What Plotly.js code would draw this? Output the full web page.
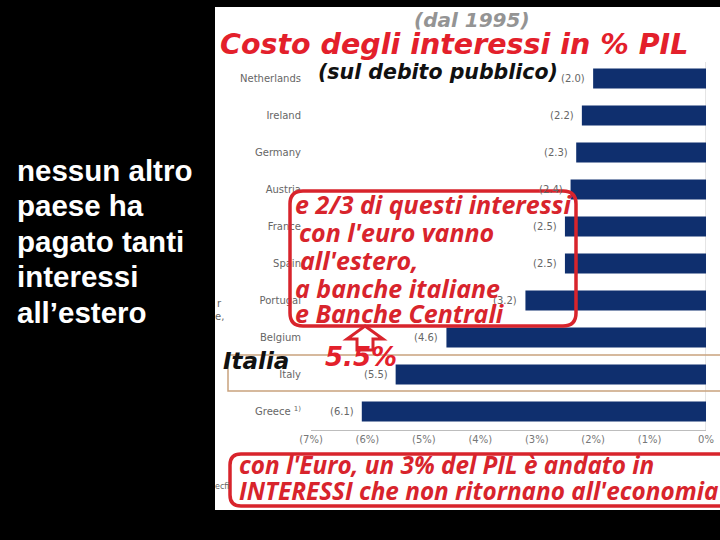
<!DOCTYPE html>
<html><head><meta charset="utf-8">
<script src="https://cdn.plot.ly/plotly-3.0.1.min.js"></script>
<style>html,body{margin:0;padding:0;background:#000;}#c{width:720px;height:540px;}</style>
</head><body><div id="c"></div>
<script>
// ---- data ----
const countries = ['Netherlands','Ireland','Germany','Austria','France','Spain','Portugal','Belgium','Italy','Greece'];
const countryLabels = ['Netherlands','Ireland','Germany','Austria','France','Spain','Portugal','Belgium','Italy','Greece <sup>1)</sup>'];
const interestPct = [2.0, 2.2, 2.3, 2.4, 2.5, 2.5, 3.2, 4.6, 5.5, 6.1];
const valueLabels = ['(2.0)','(2.2)','(2.3)','(2.4)','(2.5)','(2.5)','(3.2)','(4.6)','(5.5)','(6.1)'];
const tickVals = [7, 6, 5, 4, 3, 2, 1, 0];
const tickLabels = ['(7%)','(6%)','(5%)','(4%)','(3%)','(2%)','(1%)','0%'];
const sideLines = ['nessun altro','paese ha','pagato tanti','interessi','all\u2019estero'];
const boxLines = ['e 2/3 di questi interessi','con l\'euro vanno','all\'estero,','a banche italiane','e Banche Centrali'];
const bottomLines = ['con l\'Euro, un 3% del PIL \u00e8 andato in','INTERESSI che non ritornano all\'economia'];

// ---- layout helpers (pixel -> paper) ----
const L = 311, T = 60, W = 395, H = 370;
const X = px => (px - L) / W;
const Y = py => (T + H - py) / H;

function rrect(x0, y0, x1, y1, r) {
  const p = (x, y) => X(x) + ',' + Y(y);
  return 'M' + p(x0 + r, y0) + ' L' + p(x1 - r, y0) + ' Q' + p(x1, y0) + ' ' + p(x1, y0 + r) +
    ' L' + p(x1, y1 - r) + ' Q' + p(x1, y1) + ' ' + p(x1 - r, y1) +
    ' L' + p(x0 + r, y1) + ' Q' + p(x0, y1) + ' ' + p(x0, y1 - r) +
    ' L' + p(x0, y0 + r) + ' Q' + p(x0, y0) + ' ' + p(x0 + r, y0) + ' Z';
}
function poly(pts) {
  return 'M' + pts.map(q => X(q[0]) + ',' + Y(q[1])).join(' L') + ' Z';
}
function txt(px, py, text, font, xanchor) {
  return {xref: 'paper', yref: 'paper', x: X(px), y: Y(py), text: text, showarrow: false,
    xanchor: xanchor || 'left', yanchor: 'middle', font: font};
}

const RED = '#d8242c';
const boxFont = {family: 'Open Sans, DejaVu Sans', size: 25, color: RED, weight: 'bold', style: 'italic'};
const botFont = {family: 'Open Sans, DejaVu Sans', size: 24.3, color: RED, weight: 'bold', style: 'italic'};

const annotations = [];
// value labels
countries.forEach((c, i) => {
  annotations.push({x: interestPct[i], y: c, xref: 'x', yref: 'y', text: valueLabels[i], showarrow: false,
    xanchor: 'right', yanchor: 'middle', xshift: -6, font: {family: 'DejaVu Sans', size: 10, color: '#666'}});
});
// titles
annotations.push(txt(472, 20, '(dal 1995)', {family: 'DejaVu Sans', size: 20, color: '#949494', weight: 'bold', style: 'italic'}, 'center'));
annotations.push(txt(454, 44, 'Costo degli interessi in % PIL', {family: 'DejaVu Sans', size: 28.5, color: '#e3202b', weight: 'bold', style: 'italic'}, 'center'));
annotations.push(txt(438, 72, '(sul debito pubblico)', {family: 'DejaVu Sans', size: 20.5, color: '#111', weight: 'bold', style: 'italic'}, 'center'));
// side text
const sideY = [170, 205.5, 241, 276.5, 312];
sideLines.forEach((s, i) => annotations.push(txt(15, sideY[i], s, {family: 'Liberation Sans, Arial', size: 29.5, color: '#fff', weight: 'bold'})));
// box text
const boxY = [203.5, 231.5, 259.5, 287.5, 313];
const boxX = [293, 297, 298, 293, 293];
boxLines.forEach((s, i) => annotations.push(txt(boxX[i], boxY[i], s, boxFont)));
// bottom text
const botY = [465, 490];
bottomLines.forEach((s, i) => annotations.push(txt(237, botY[i], s, botFont)));
// Italia / 5.5%
annotations.push(txt(221, 361, 'Italia', {family: 'DejaVu Sans', size: 23, color: '#111', weight: 'bold', style: 'italic'}));
annotations.push(txt(323, 357, '5.5%', {family: 'DejaVu Sans', size: 26, color: '#e3202b', weight: 'bold', style: 'italic'}));
// cropped fragments at the panel edge
annotations.push(txt(215, 303, 'r', {family: 'DejaVu Sans', size: 10, color: '#666'}));
annotations.push(txt(213, 316, 'e,', {family: 'DejaVu Sans', size: 10, color: '#666'}));
annotations.push(txt(213, 486, 'ecfi', {family: 'DejaVu Sans', size: 8, color: '#666'}));

const shapes = [
  // white panel
  {type: 'rect', xref: 'paper', yref: 'paper', x0: X(215), x1: X(725), y0: Y(7), y1: Y(510),
    fillcolor: '#fff', line: {width: 0}, layer: 'below'},
  // 0% vertical line
  {type: 'line', xref: 'x', yref: 'paper', x0: 0, x1: 0, y0: Y(62), y1: 0, line: {color: '#c8c8c8', width: 1}, layer: 'below'},
  // Italy highlight
  {type: 'rect', xref: 'paper', yref: 'paper', x0: X(228), x1: X(730), y0: Y(355), y1: Y(391),
    line: {color: '#c9a27e', width: 1.5}, fillcolor: 'rgba(0,0,0,0)'},
  // red boxes
  {type: 'path', xref: 'paper', yref: 'paper', path: rrect(290, 191, 576, 326, 13), line: {color: RED, width: 3.5}},
  {type: 'path', xref: 'paper', yref: 'paper', path: rrect(230, 454, 740, 506, 11), line: {color: RED, width: 3.5}},
  // arrow
  {type: 'path', xref: 'paper', yref: 'paper',
    path: poly([[365, 326], [383, 339], [373, 339], [373, 350], [357, 350], [357, 339], [347, 339]]),
    line: {color: RED, width: 3}, fillcolor: '#fff'}
];

const trace = {
  type: 'bar', orientation: 'h', y: countries, x: interestPct,
  marker: {color: '#0f2f6e', line: {width: 0}}, hoverinfo: 'skip'
};

const layout = {
  width: 720, height: 540,
  margin: {l: L, r: 720 - L - W, t: T, b: 540 - T - H, pad: 0},
  paper_bgcolor: '#000', plot_bgcolor: 'rgba(0,0,0,0)',
  showlegend: false, bargap: 0.46,
  xaxis: {range: [7, 0], tickvals: tickVals, ticktext: tickLabels, showgrid: false, zeroline: false,
    showline: true, linecolor: '#bdbdbd', linewidth: 1, ticks: '', fixedrange: true,
    tickfont: {family: 'DejaVu Sans', size: 10, color: '#777'}},
  yaxis: {type: 'category', categoryorder: 'array', categoryarray: countries, autorange: 'reversed',
    tickvals: countries, ticktext: countryLabels, showgrid: false, zeroline: false, showline: false,
    ticks: '', ticklabelstandoff: 9, fixedrange: true,
    tickfont: {family: 'DejaVu Sans', size: 10, color: '#666'}},
  shapes: shapes, annotations: annotations
};

Plotly.newPlot('c', [trace], layout, {displayModeBar: false, staticPlot: true});
</script>
</body></html>
